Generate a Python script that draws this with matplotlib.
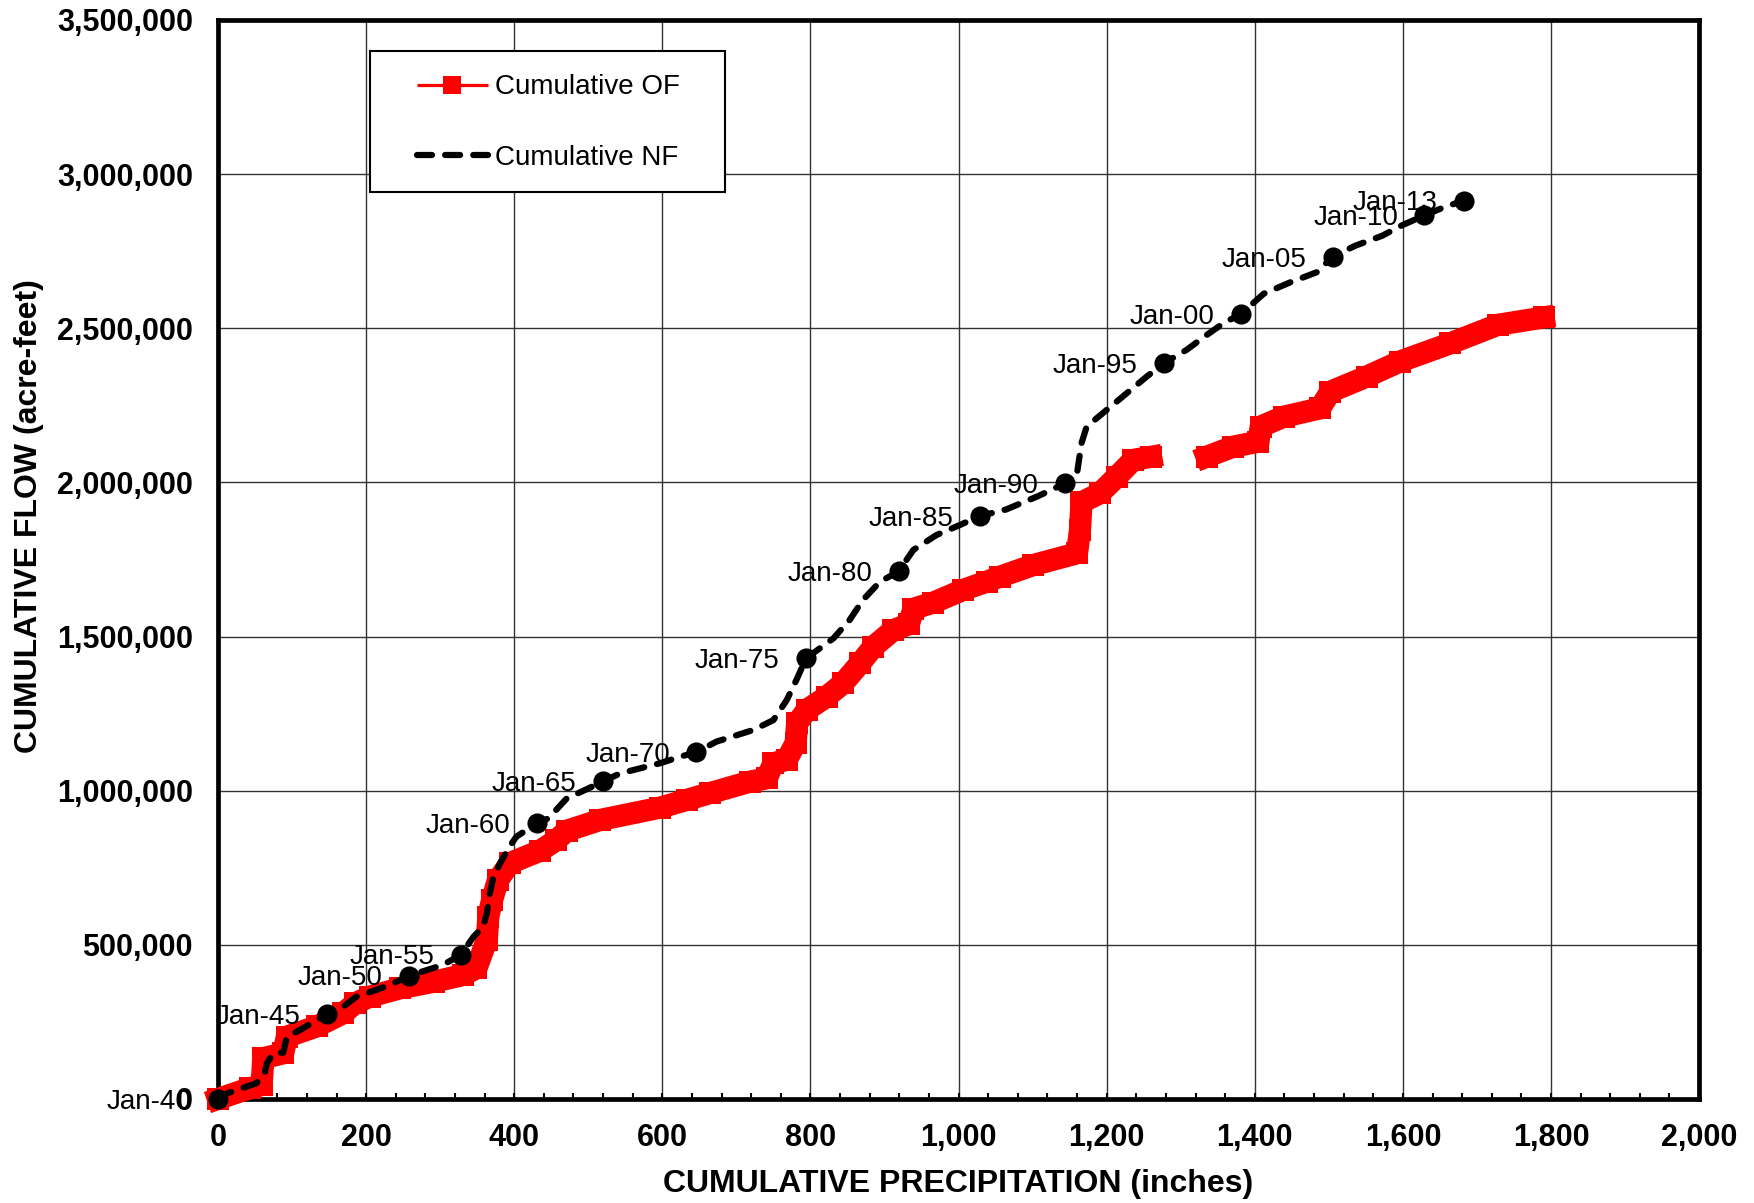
import matplotlib
matplotlib.use("Agg")
import matplotlib.pyplot as plt
from matplotlib.ticker import MultipleLocator, FuncFormatter
from matplotlib.patches import Rectangle

plt.rcParams['font.family'] = ['Liberation Sans', 'DejaVu Sans']

nan = float('nan')

# Cumulative precipitation (inches) vs cumulative observed flow (acre-feet)
of_precip = [0, 43, 59, 61, 88, 93, 133, 169, 185, 205, 246, 291, 331, 349, 363, 365,
             370, 378, 394, 435, 457, 471, 516, 597, 633, 664, 718, 741, 750, 768,
             780, 782, 795, 822, 844, 867, 885, 912, 933, 939, 966, 1006, 1038, 1056,
             1101, 1160, 1164, 1166, 1191, 1214, 1236, 1260, nan,
             1335, 1371, 1405, 1408, 1439, 1488, 1502, 1551, 1596, 1664, 1728, 1790]
of_flow = [0, 35e3, 45e3, 132e3, 148e3, 202e3, 235e3, 278e3, 310e3, 332e3, 359e3, 380e3,
           402e3, 424e3, 516e3, 591e3, 645e3, 710e3, 765e3, 805e3, 840e3, 870e3, 905e3,
           945e3, 970e3, 992e3, 1029e3, 1040e3, 1089e3, 1100e3, 1154e3, 1219e3, 1262e3,
           1305e3, 1348e3, 1413e3, 1467e3, 1521e3, 1540e3, 1590e3, 1610e3, 1651e3,
           1678e3, 1694e3, 1732e3, 1770e3, 1846e3, 1935e3, 1965e3, 2019e3, 2073e3,
           2083e3, nan,
           2083e3, 2116e3, 2132e3, 2181e3, 2213e3, 2240e3, 2294e3, 2343e3, 2392e3,
           2451e3, 2511e3, 2535e3]

# Cumulative precipitation (inches) vs cumulative naturalized flow (acre-feet)
nf_precip = [0, 12, 52, 63, 66, 75, 88, 93, 111, 147, 169, 187, 214, 232, 258, 282, 304,
             328, 345, 358, 363, 367, 372, 381, 394, 403, 417, 431, 446, 471, 491, 520,
             543, 597, 624, 646, 673, 723, 750, 768, 781, 794, 831, 853, 871, 894, 919,
             939, 970, 1002, 1029, 1064, 1107, 1144, 1160, 1166, 1173, 1200, 1227, 1254,
             1277, 1308, 1335, 1360, 1381, 1412, 1448, 1484, 1505, 1536, 1572, 1598,
             1629, 1655, 1682, 1700]
nf_flow = [0, 18e3, 51e3, 83e3, 116e3, 148e3, 150e3, 202e3, 224e3, 275e3, 299e3, 332e3,
           354e3, 370e3, 400e3, 418e3, 435e3, 468e3, 526e3, 559e3, 602e3, 667e3, 721e3,
           765e3, 820e3, 851e3, 873e3, 895e3, 910e3, 975e3, 997e3, 1030e3, 1056e3,
           1089e3, 1110e3, 1125e3, 1159e3, 1197e3, 1229e3, 1294e3, 1359e3, 1429e3,
           1494e3, 1554e3, 1619e3, 1678e3, 1711e3, 1781e3, 1829e3, 1862e3, 1891e3,
           1912e3, 1955e3, 1997e3, 2030e3, 2127e3, 2181e3, 2235e3, 2289e3, 2343e3,
           2386e3, 2430e3, 2478e3, 2520e3, 2545e3, 2612e3, 2649e3, 2682e3, 2732e3,
           2768e3, 2800e3, 2833e3, 2866e3, 2892e3, 2914e3, 2927e3]

# January markers along the naturalized-flow curve
mark_labels = ['Jan-40', 'Jan-45', 'Jan-50', 'Jan-55', 'Jan-60', 'Jan-65', 'Jan-70',
               'Jan-75', 'Jan-80', 'Jan-85', 'Jan-90', 'Jan-95', 'Jan-00', 'Jan-05',
               'Jan-10', 'Jan-13']
mark_precip = [0, 147, 258, 328, 431, 520, 646, 794, 919, 1029, 1144, 1277, 1381, 1505,
               1629, 1682]
mark_flow = [0, 275e3, 400e3, 468e3, 895e3, 1030e3, 1125e3, 1429e3, 1711e3, 1891e3,
             1997e3, 2386e3, 2545e3, 2732e3, 2866e3, 2914e3]

fig = plt.figure(figsize=(17.54, 12.03), dpi=100)
ax = fig.add_axes([0.1243, 0.0865, 0.8444, 0.8969])

ax.set_xlim(0, 2000)
ax.set_ylim(0, 3500000)
ax.xaxis.set_major_locator(MultipleLocator(200))
ax.xaxis.set_minor_locator(MultipleLocator(40))
ax.yaxis.set_major_locator(MultipleLocator(500000))
comma = FuncFormatter(lambda v, p: f"{v:,.0f}")
ax.xaxis.set_major_formatter(comma)
ax.yaxis.set_major_formatter(comma)

ax.grid(True, which='major', color='#333333', lw=1.0, zorder=0)
ax.set_axisbelow(True)
for s in ax.spines.values():
    s.set_linewidth(3.4)

ax.tick_params(axis='x', which='both', direction='in', length=4.5, width=1.5,
               labelsize=22, pad=17, top=False)
ax.tick_params(axis='y', which='both', length=0, labelsize=22, pad=18)
for lab in ax.get_xticklabels() + ax.get_yticklabels():
    lab.set_fontweight('bold')

of_line, = ax.plot(of_precip, of_flow, color='#ff0000', lw=16, marker='s', ms=16,
                   mew=0, solid_joinstyle='miter', solid_capstyle='projecting',
                   clip_on=False, zorder=3, label='Cumulative OF')
nf_line, = ax.plot(nf_precip, nf_flow, color='black', lw=4.5, ls=(0, (2.4, 2.1)),
                   dash_capstyle='round', clip_on=False, zorder=4,
                   label='Cumulative NF')
ax.plot(mark_precip, mark_flow, ls='none', marker='o', ms=13.5, color='black',
        clip_on=False, zorder=5)
for lab, px, fy in zip(mark_labels, mark_precip, mark_flow):
    ax.annotate(lab, (px, fy), xytext=(-19, -2), textcoords='offset points',
                ha='right', va='center', fontsize=20, zorder=6,
                annotation_clip=False)

ax.set_xlabel('CUMULATIVE PRECIPITATION (inches)', fontsize=23, fontweight='bold')
ax.set_ylabel('CUMULATIVE FLOW (acre-feet)', fontsize=23, fontweight='bold')
ax.xaxis.label.set_va('center')
ax.yaxis.label.set_va('center')
ax.xaxis.set_label_coords(0.5, -0.079)
ax.yaxis.set_label_coords(-0.1276, 0.540)

# legend box
ax.add_patch(Rectangle((0.1026, 0.8406), 0.2397, 0.1307, transform=ax.transAxes,
                       facecolor='white', edgecolor='black', lw=1.5, zorder=7))
leg = ax.legend(handles=[of_line, nf_line], loc='upper left',
                bbox_to_anchor=(0.1342, 0.9495), borderaxespad=0, borderpad=0,
                frameon=False, fontsize=20, handlelength=2.55, handletextpad=0.25,
                labelspacing=1.59)
leg.set_zorder(8)
leg.get_lines()[0].set_linewidth(2.3)
leg.get_lines()[0].set_solid_capstyle('butt')
leg.get_lines()[0].set_markersize(12.5)

fig.savefig('out.png', dpi=100)
